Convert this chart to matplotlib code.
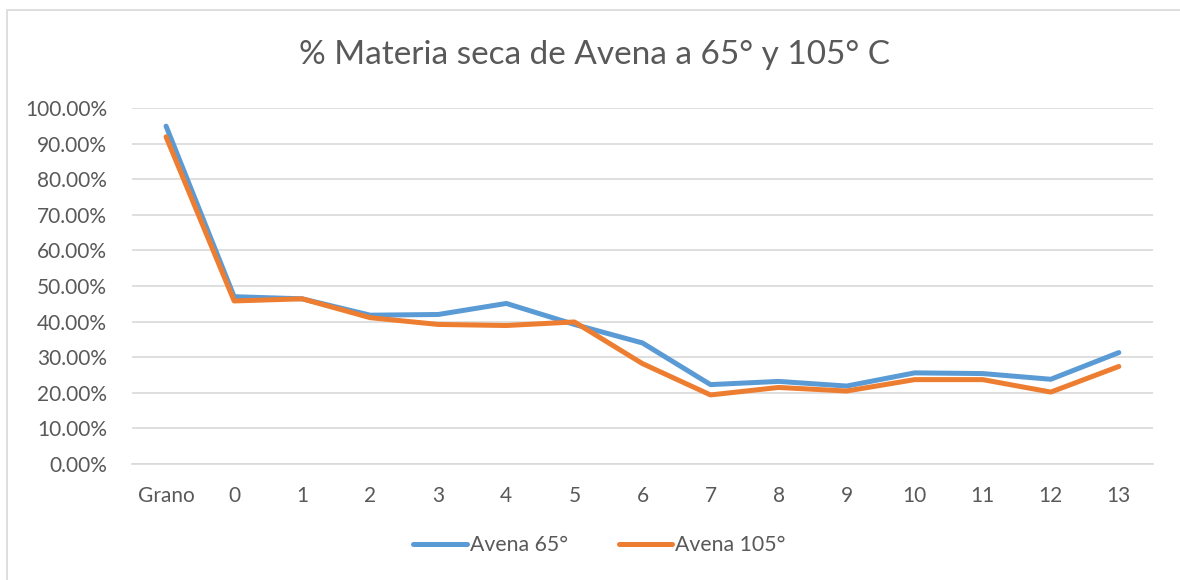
import matplotlib
matplotlib.use("Agg")
import matplotlib.pyplot as plt
from matplotlib.patches import Rectangle
from matplotlib.ticker import PercentFormatter

# datos
categorias = ["Grano", "0", "1", "2", "3", "4", "5", "6", "7", "8", "9", "10", "11", "12", "13"]
avena_65 = [94.9, 47.0, 46.4, 41.8, 42.0, 45.1, 39.2, 34.0, 22.3, 23.2, 21.9, 25.6, 25.4, 23.8, 31.3]
avena_105 = [91.9, 45.8, 46.4, 41.1, 39.2, 38.9, 39.9, 28.2, 19.4, 21.5, 20.5, 23.7, 23.7, 20.2, 27.4]

AZUL = "#5B9BD5"
NARANJA = "#ED7D31"
GRIS = "#595959"

plt.rcParams["font.family"] = ["Lato", "DejaVu Sans"]

fig = plt.figure(figsize=(11.8, 5.8), dpi=100)
ax = fig.add_axes([0.1119, 0.2, 0.977 - 0.1119, 0.8138 - 0.2])

x = list(range(len(categorias)))
ax.plot(x, avena_65, color=AZUL, linewidth=3.6, label="Avena 65°", solid_capstyle="round")
ax.plot(x, avena_105, color=NARANJA, linewidth=3.6, label="Avena 105°", solid_capstyle="round")

ax.set_xlim(-0.5, len(categorias) - 0.5)
ax.set_ylim(0, 100)
ax.set_yticks(range(0, 101, 10))
ax.yaxis.set_major_formatter(PercentFormatter(decimals=2))
ax.set_xticks(x)
ax.set_xticklabels(categorias)

ax.grid(axis="y", color="#D9D9D9", linewidth=1.2)
ax.set_axisbelow(True)
for s in ax.spines.values():
    s.set_visible(False)
ax.spines["bottom"].set_visible(True)
ax.spines["bottom"].set_color("#D9D9D9")
ax.spines["bottom"].set_linewidth(1.2)
ax.tick_params(length=0, labelsize=15, labelcolor=GRIS)
ax.tick_params(axis="x", pad=16)
ax.tick_params(axis="y", pad=18)

fig.text(0.504, 0.905, "% Materia seca de Avena a 65° y 105° C",
         ha="center", va="center", fontsize=24, color=GRIS)

fig.legend(loc="center", bbox_to_anchor=(0.508, 0.06), ncol=2, frameon=False,
           fontsize=15.3, labelcolor=GRIS, handlelength=2.5, handletextpad=0.15,
           columnspacing=2.4)

fig.patches.append(Rectangle((0.006, -0.1), 1.1, 1.0828, transform=fig.transFigure,
                             fill=False, edgecolor="#D9D9D9", linewidth=1.2))

fig.savefig("out.png", dpi=100, facecolor="white")
